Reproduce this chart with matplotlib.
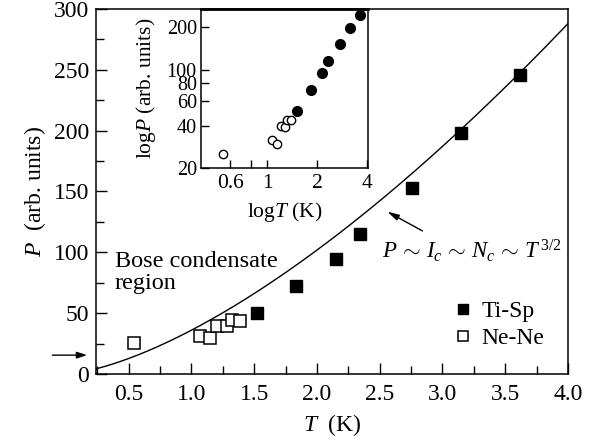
import matplotlib
matplotlib.use("Agg")
import matplotlib.pyplot as plt
from matplotlib.ticker import MultipleLocator, FixedLocator, FixedFormatter, NullLocator
import numpy as np

plt.rcParams['font.family'] = ['Liberation Serif', 'DejaVu Serif']
plt.rcParams['mathtext.fontset'] = 'custom'
plt.rcParams['mathtext.rm'] = 'Liberation Serif'
plt.rcParams['mathtext.it'] = 'Liberation Serif:italic'
plt.rcParams['mathtext.bf'] = 'Liberation Serif:bold'

# Data
ti_sp_T = [1.52, 1.83, 2.155, 2.34, 2.76, 3.15, 3.615]
ti_sp_P = [50.5, 72, 94.5, 115, 153, 198, 246]
ne_ne_T = [0.54, 1.07, 1.145, 1.205, 1.283, 1.326, 1.385]
ne_ne_P = [25.3, 31.6, 29.4, 39.6, 39.4, 44, 43.7]
coef = 36.0          # P = coef * T^(3/2)
arrow_level = 15.5   # marked level on P axis

x_ticks = [0.5, 1.0, 1.5, 2.0, 2.5, 3.0, 3.5, 4.0]
y_ticks = [0, 50, 100, 150, 200, 250, 300]
inset_x_ticks = [0.6, 0.8, 1, 2, 4]
inset_x_labels = ['0.6', '', '1', '2', '4']
inset_y_ticks = [20, 40, 60, 80, 100, 200]
inset_y_labels = ['20', '40', '60', '80', '100', '200']

W, H = 595, 444
fig = plt.figure(figsize=(W/100, H/100), dpi=100)
L, R, T, B = 96, 568, 9, 374
ax = fig.add_axes([L/W, 1 - B/H, (R-L)/W, (B-T)/H])

Tc = np.linspace(0.24, 4.0, 300)
ax.plot(Tc, coef*Tc**1.5, color='black', lw=1.0)
ax.plot(ti_sp_T, ti_sp_P, 's', color='black', ms=9, mec='black', label='Ti-Sp')
ax.plot(ne_ne_T, ne_ne_P, 's', color='black', mfc='white', mec='black', mew=1.1, ms=9, label='Ne-Ne')

ax.set_xlim(0.24, 4.0)
ax.set_ylim(0, 300)
ax.xaxis.set_major_locator(FixedLocator(x_ticks))
ax.set_xticklabels([f'{v:.1f}' for v in x_ticks])
ax.xaxis.set_minor_locator(MultipleLocator(0.25))
ax.yaxis.set_major_locator(FixedLocator(y_ticks))
ax.set_yticklabels([str(v) for v in y_ticks])
ax.yaxis.set_minor_locator(MultipleLocator(25))
ax.tick_params(which='both', direction='in', top=False, right=False, labelsize=17, width=1.0)
ax.tick_params(which='major', length=8, pad=7)
ax.tick_params(which='minor', length=5.5)
ax.tick_params(axis='y', which='major', pad=5)
for s in ax.spines.values():
    s.set_linewidth(1.1)

ax.set_xlabel(r'$T$  (K)', fontsize=17, labelpad=5)
ax.set_ylabel(r'$P$  (arb. units)', fontsize=17, labelpad=4)

ax.text(0.39, 101, 'Bose condensate\nregion', fontsize=17.5, ha='left', va='top', linespacing=1.05)

ax.annotate('', xy=(2.54, 134.6), xytext=(2.86, 116.5),
            arrowprops=dict(arrowstyle='-|>,head_length=0.7,head_width=0.18', color='black', lw=1.0))
ax.text(2.52, 94.8, r'$P\,\sim\,I_c\,\sim\,N_c\,\sim\,T^{\,3/2}$', fontsize=16.5, ha='left', va='baseline')

ax.annotate('', xy=(0.19, arrow_level), xytext=(-0.13, arrow_level),
            xycoords='data', annotation_clip=False,
            arrowprops=dict(arrowstyle='-|>,head_length=0.6,head_width=0.2', color='black', lw=1.0))

leg = ax.legend(loc='lower right', bbox_to_anchor=(0.975, 0.035), frameon=False, fontsize=17,
                handlelength=0.6, handletextpad=0.5, labelspacing=0.25, markerscale=0.8, borderpad=0)

# Inset
iL, iR, iT, iB = 201, 368, 9, 168
axi = fig.add_axes([iL/W, 1 - iB/H, (iR-iL)/W, (iB-iT)/H])
axi.set_xscale('log')
axi.set_yscale('log')
axi.plot(ti_sp_T, ti_sp_P, 'o', color='black', ms=7)
axi.plot(ne_ne_T, ne_ne_P, 'o', color='black', mfc='white', mew=1.0, ms=6)
axi.set_xlim(0.4, 4.05)
axi.set_ylim(20, 270)
axi.xaxis.set_major_locator(FixedLocator(inset_x_ticks))
axi.xaxis.set_major_formatter(FixedFormatter(inset_x_labels))
axi.xaxis.set_minor_locator(NullLocator())
axi.yaxis.set_major_locator(FixedLocator(inset_y_ticks))
axi.yaxis.set_major_formatter(FixedFormatter(inset_y_labels))
axi.yaxis.set_minor_locator(NullLocator())
axi.tick_params(which='both', direction='in', top=False, right=False, labelsize=15.5, length=6, width=1.0, pad=4)
axi.tick_params(axis='y', pad=3, labelsize=14.5)
for s in axi.spines.values():
    s.set_linewidth(1.1)
axi.spines['top'].set_linewidth(2.0)
axi.set_xlabel(r'log$T$ (K)', fontsize=15.5, labelpad=5)
axi.set_ylabel(r'log$P$ (arb. units)', fontsize=15.5, labelpad=6)

fig.savefig('out.png', dpi=100)
